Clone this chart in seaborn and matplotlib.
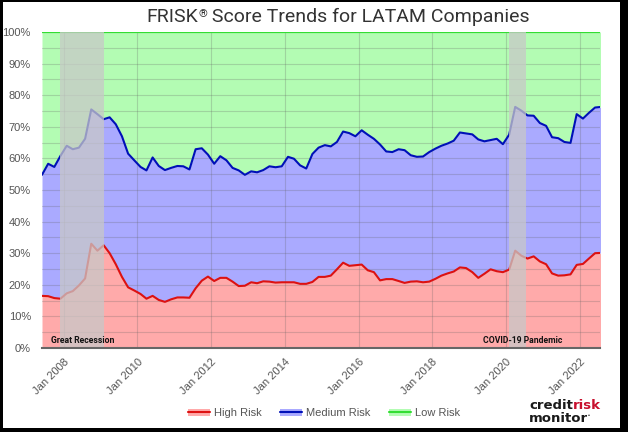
import numpy as np
import pandas as pd
import matplotlib
matplotlib.use("Agg")
import matplotlib.pyplot as plt
import matplotlib.dates as mdates
import matplotlib.transforms as mtransforms
from matplotlib.patches import Patch, Rectangle
from matplotlib.lines import Line2D
import seaborn as sns

# -------------------------------------------------------------
# DATA (bimonthly readings, Jun 2007 - Aug 2022)
# -------------------------------------------------------------
dates = pd.date_range("2007-06-01", periods=92, freq="2MS")

# upper edge of the "High Risk" band (share of companies, %)
high_risk = [
    16.5, 16.4, 15.8, 15.6, 17.3, 18.0, 19.8, 22.0, 33.0, 30.8,
    32.5, 30.0, 26.5, 22.5, 19.2, 18.2, 17.1, 15.6, 16.5, 15.2,
    14.6, 15.4, 16.0, 16.0, 15.9, 18.9, 21.3, 22.6, 21.2, 22.2,
    22.2, 21.0, 19.6, 19.7, 20.8, 20.5, 21.1, 21.0, 20.7, 20.8,
    20.8, 20.8, 20.3, 20.3, 20.9, 22.5, 22.5, 22.9, 24.9, 27.0,
    26.0, 26.2, 26.4, 24.6, 24.0, 21.4, 21.8, 21.8, 21.2, 20.6,
    21.0, 21.1, 20.8, 21.0, 21.9, 22.9, 23.6, 24.2, 25.5, 25.3,
    24.0, 22.2, 23.5, 24.9, 24.3, 24.0, 24.8, 30.8, 29.2, 28.3,
    29.0, 27.4, 26.5, 23.6, 22.9, 23.0, 23.3, 26.3, 26.6, 28.3,
    30.0, 30.1,
]

# upper edge of the "Medium Risk" band (cumulative, %)
medium_risk_top = [
    54.8, 58.3, 57.3, 60.8, 64.0, 62.9, 63.4, 66.2, 75.5, 74.0,
    72.4, 73.0, 70.8, 67.0, 61.5, 59.4, 57.3, 56.2, 60.3, 57.6,
    56.3, 57.0, 57.6, 57.5, 56.5, 62.9, 63.2, 61.2, 58.3, 60.7,
    59.4, 57.0, 56.2, 54.8, 55.9, 55.6, 56.3, 57.5, 57.2, 57.5,
    60.5, 59.9, 57.8, 56.8, 61.4, 63.4, 64.2, 63.8, 65.2, 68.5,
    68.0, 67.0, 68.9, 67.5, 66.2, 64.4, 62.2, 62.0, 62.9, 62.6,
    61.0, 60.5, 60.6, 62.0, 63.1, 64.0, 64.7, 65.6, 68.2, 67.9,
    67.6, 66.0, 65.4, 65.8, 66.2, 64.5, 67.5, 76.3, 75.1, 73.6,
    73.5, 71.2, 70.3, 66.7, 66.4, 65.2, 64.9, 74.0, 72.6, 74.4,
    76.1, 76.3,
]

event_starts = ["2007-12-01", "2020-02-01"]
event_ends = ["2009-02-01", "2020-07-15"]
event_names = ["Great Recession", "COVID-19 Pandemic"]

legend_labels = ["High Risk", "Medium Risk", "Low Risk"]

# -------------------------------------------------------------
# STYLE
# -------------------------------------------------------------
sns.set_style("white")
plt.rcParams["font.family"] = ["Liberation Sans", "DejaVu Sans"]

RED_FILL, RED_LINE = "#ffaaaa", "#dd1111"
BLUE_FILL, BLUE_LINE = "#aaaaff", "#0010b8"
GREEN_FILL, GREEN_LINE = "#b3fcb3", "#33dd33"
TEXT_GREY = "#555555"
GRID_KW = dict(color="#606060", alpha=0.25, lw=0.8)

fig = plt.figure(figsize=(6.28, 4.32), dpi=100, facecolor="black")
# white card inside the black frame
fig.patches.append(Rectangle((3 / 628, 4 / 432), 617 / 628, 426 / 432,
                             transform=fig.transFigure, facecolor="white",
                             edgecolor="none", zorder=-1))

ax = fig.add_axes([42 / 628, 84 / 432, 558 / 628, 316 / 432])

df = pd.DataFrame({"date": dates, "high": high_risk, "medium": medium_risk_top})

# stacked areas
ax.fill_between(df["date"], 0, df["high"], color=RED_FILL, lw=0, zorder=1)
ax.fill_between(df["date"], df["high"], df["medium"], color=BLUE_FILL, lw=0, zorder=1)
ax.fill_between(df["date"], df["medium"], 100, color=GREEN_FILL, lw=0, zorder=1)

# grid drawn over the fills
for yv in np.arange(5, 100, 5):
    ax.axhline(yv, zorder=2, **GRID_KW)

sns.lineplot(data=df, x="date", y="high", ax=ax, color=RED_LINE, lw=1.5, zorder=4)
sns.lineplot(data=df, x="date", y="medium", ax=ax, color=BLUE_LINE, lw=1.5, zorder=4)
ax.axhline(100, color=GREEN_LINE, lw=1.6, zorder=4)

# shaded event bands + labels
for start, end in zip(event_starts, event_ends):
    ax.axvspan(pd.Timestamp(start), pd.Timestamp(end), color="#c8c8c8", alpha=0.75, lw=0, zorder=5)
blend = mtransforms.blended_transform_factory(ax.transAxes, ax.transData)
ax.text(9 / 558, 2.3, event_names[0], transform=blend, ha="left", va="center",
        fontsize=6.2, fontweight="bold", family="Roboto", color="#111111", zorder=6)
ax.text(520 / 558, 2.3, event_names[1], transform=blend, ha="right", va="center",
        fontsize=6.2, fontweight="bold", family="Roboto", color="#111111", zorder=6)

# axes
ax.set_xlim(dates[0], pd.Timestamp("2022-07-20"))
ax.set_ylim(0, 100)
ax.set_yticks(np.arange(0, 101, 10))
ax.set_yticklabels([f"{v}%" for v in range(0, 101, 10)])
ax.xaxis.set_major_locator(mdates.YearLocator(2, month=1, day=1))
ax.xaxis.set_major_formatter(mdates.DateFormatter("Jan %Y"))
ax.grid(axis="x", zorder=2, **GRID_KW)
ax.set_axisbelow(False)
ax.tick_params(axis="y", length=0, pad=8, labelsize=8, labelcolor=TEXT_GREY)
ax.tick_params(axis="x", length=3, color="#bbbbbb", pad=3, labelsize=8, labelcolor=TEXT_GREY)
for lbl in ax.get_xticklabels():
    lbl.set_rotation(45)
    lbl.set_ha("right")
    lbl.set_rotation_mode("anchor")
ax.set_xlabel("")
ax.set_ylabel("")
for side in ["top", "right", "left"]:
    ax.spines[side].set_visible(False)
ax.spines["bottom"].set_color("#666666")
ax.spines["bottom"].set_linewidth(1.5)
ax.spines["bottom"].set_zorder(7)

# title with a small superscript registered mark
t1 = fig.text(146 / 628, 1 - 22 / 432, "FRISK", ha="left", va="baseline",
              fontsize=14, family="Roboto", color="#333333")
sup = ax.annotate("®", xy=(1, 1), xycoords=t1, xytext=(0.5, -1), textcoords="offset points",
                  ha="left", va="top", fontsize=8, family="Roboto", color="#333333",
                  annotation_clip=False)
ax.annotate(" Score Trends for LATAM Companies", xy=(1, 0), xycoords=(sup, t1),
            ha="left", va="bottom", fontsize=14, family="Roboto", color="#333333",
            annotation_clip=False)

# legend: light fill patch with the series line on top
handles = [
    (Patch(facecolor=RED_FILL, edgecolor="none"), Line2D([], [], color=RED_LINE, lw=1.5)),
    (Patch(facecolor=BLUE_FILL, edgecolor="none"), Line2D([], [], color=BLUE_LINE, lw=1.5)),
    (Patch(facecolor=GREEN_FILL, edgecolor="none"), Line2D([], [], color=GREEN_LINE, lw=1.5)),
]
fig.legend(handles, legend_labels, loc="center", bbox_to_anchor=(324 / 628, 1 - 413 / 432),
           ncol=3, frameon=False, fontsize=8, labelcolor=TEXT_GREY,
           handlelength=2.0, handleheight=0.6, handletextpad=0.4, columnspacing=1.6)

# logo
c1 = fig.text(529 / 628, 1 - 409 / 432, "credit", ha="left", va="baseline",
              fontsize=9.5, fontweight="bold", family="DejaVu Sans", color="#1a1a1a")
ax.annotate("risk", xy=(1, 0), xycoords=c1, ha="left", va="bottom",
            fontsize=9.5, fontweight="bold", family="DejaVu Sans", color="#c8102e",
            annotation_clip=False)
m1 = fig.text(529 / 628, 1 - 422 / 432, "monitor", ha="left", va="baseline",
              fontsize=9.5, fontweight="bold", family="DejaVu Sans", color="#1a1a1a")
ax.annotate("•", xy=(1, 0.55), xycoords=m1, ha="left", va="bottom",
            fontsize=4, color="#1a1a1a", annotation_clip=False)

fig.savefig("out.png", dpi=100, facecolor=fig.get_facecolor())
